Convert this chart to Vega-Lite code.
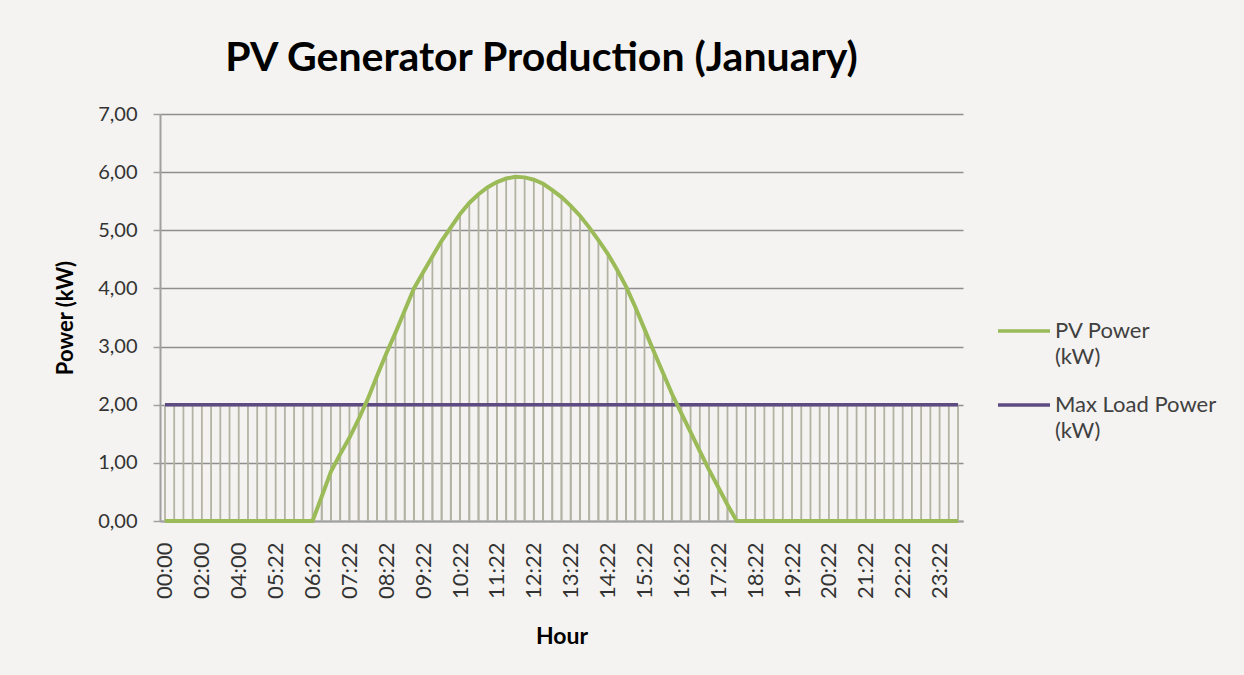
{
  "$schema": "https://vega.github.io/schema/vega-lite/v6.json",
  "width": 803,
  "height": 407,
  "autosize": {"type": "none"},
  "padding": {"left": 160, "top": 114, "right": 281, "bottom": 154},
  "background": "#f4f3f1",
  "title": {"text": "PV Generator Production (January)", "font": "Lato", "fontSize": 41, "fontWeight": "bold", "color": "#000000", "anchor": "middle", "frame": "group", "dx": -20, "offset": -8, "baseline": "alphabetic"},
  "config": {
    "view": {"stroke": null},
    "font": "Lato",
    "axisY": {"domainColor": "#a0a0a0", "domainWidth": 2, "tickColor": "#a0a0a0", "tickSize": 7, "tickWidth": 1.5, "gridColor": "#8e8e8e", "gridWidth": 1.5, "labelFont": "Lato", "labelFontSize": 20, "labelColor": "#333333", "labelPadding": 16, "titleFont": "Lato", "titleFontSize": 22, "titleFontWeight": "bold", "titleColor": "#000000", "titlePadding": 20},
    "axisX": {"domainColor": "#a0a0a0", "domainWidth": 2, "ticks": false, "grid": false, "labelFont": "Lato", "labelFontSize": 22, "labelColor": "#333333", "labelPadding": 21, "titleFont": "Lato", "titleFontSize": 23, "titleFontWeight": "bold", "titleColor": "#000000", "titlePadding": 27}
  },
  "data": {"values": [
    {"t":"00:00","pv":0,"load":2},{"t":"00:30","pv":0,"load":2},{"t":"01:00","pv":0,"load":2},{"t":"01:30","pv":0,"load":2},
    {"t":"02:00","pv":0,"load":2},{"t":"02:30","pv":0,"load":2},{"t":"03:00","pv":0,"load":2},{"t":"03:30","pv":0,"load":2},
    {"t":"04:00","pv":0,"load":2},{"t":"04:20","pv":0,"load":2},{"t":"04:41","pv":0,"load":2},{"t":"05:01","pv":0,"load":2},
    {"t":"05:22","pv":0,"load":2},{"t":"05:37","pv":0,"load":2},{"t":"05:52","pv":0,"load":2},{"t":"06:07","pv":0,"load":2},
    {"t":"06:22","pv":0,"load":2},{"t":"06:37","pv":0.42,"load":2},{"t":"06:52","pv":0.85,"load":2},{"t":"07:07","pv":1.15,"load":2},
    {"t":"07:22","pv":1.43,"load":2},{"t":"07:37","pv":1.75,"load":2},{"t":"07:52","pv":2.1,"load":2},{"t":"08:07","pv":2.5,"load":2},
    {"t":"08:22","pv":2.88,"load":2},{"t":"08:37","pv":3.24,"load":2},{"t":"08:52","pv":3.62,"load":2},{"t":"09:07","pv":4.0,"load":2},
    {"t":"09:22","pv":4.28,"load":2},{"t":"09:37","pv":4.55,"load":2},{"t":"09:52","pv":4.82,"load":2},{"t":"10:07","pv":5.05,"load":2},
    {"t":"10:22","pv":5.28,"load":2},{"t":"10:37","pv":5.47,"load":2},{"t":"10:52","pv":5.62,"load":2},{"t":"11:07","pv":5.74,"load":2},
    {"t":"11:22","pv":5.83,"load":2},{"t":"11:37","pv":5.89,"load":2},{"t":"11:52","pv":5.92,"load":2},{"t":"12:07","pv":5.91,"load":2},
    {"t":"12:22","pv":5.87,"load":2},{"t":"12:37","pv":5.8,"load":2},{"t":"12:52","pv":5.69,"load":2},{"t":"13:07","pv":5.57,"load":2},
    {"t":"13:22","pv":5.42,"load":2},{"t":"13:37","pv":5.25,"load":2},{"t":"13:52","pv":5.05,"load":2},{"t":"14:07","pv":4.83,"load":2},
    {"t":"14:22","pv":4.6,"load":2},{"t":"14:37","pv":4.33,"load":2},{"t":"14:52","pv":4.03,"load":2},{"t":"15:07","pv":3.68,"load":2},
    {"t":"15:22","pv":3.3,"load":2},{"t":"15:37","pv":2.92,"load":2},{"t":"15:52","pv":2.55,"load":2},{"t":"16:07","pv":2.18,"load":2},
    {"t":"16:22","pv":1.85,"load":2},{"t":"16:37","pv":1.53,"load":2},{"t":"16:52","pv":1.2,"load":2},{"t":"17:07","pv":0.88,"load":2},
    {"t":"17:22","pv":0.58,"load":2},{"t":"17:37","pv":0.28,"load":2},{"t":"17:52","pv":0,"load":2},{"t":"18:07","pv":0,"load":2},
    {"t":"18:22","pv":0,"load":2},{"t":"18:37","pv":0,"load":2},{"t":"18:52","pv":0,"load":2},{"t":"19:07","pv":0,"load":2},
    {"t":"19:22","pv":0,"load":2},{"t":"19:37","pv":0,"load":2},{"t":"19:52","pv":0,"load":2},{"t":"20:07","pv":0,"load":2},
    {"t":"20:22","pv":0,"load":2},{"t":"20:37","pv":0,"load":2},{"t":"20:52","pv":0,"load":2},{"t":"21:07","pv":0,"load":2},
    {"t":"21:22","pv":0,"load":2},{"t":"21:37","pv":0,"load":2},{"t":"21:52","pv":0,"load":2},{"t":"22:07","pv":0,"load":2},
    {"t":"22:22","pv":0,"load":2},{"t":"22:37","pv":0,"load":2},{"t":"22:52","pv":0,"load":2},{"t":"23:07","pv":0,"load":2},
    {"t":"23:22","pv":0,"load":2},{"t":"23:37","pv":0,"load":2},{"t":"23:52","pv":0,"load":2}
  ]},
  "encoding": {
    "x": {"field": "t", "type": "ordinal", "sort": null, "title": "Hour",
      "scale": {"type": "point", "padding": 0.54},
      "axis": {"labelAngle": -90, "values": ["00:00","02:00","04:00","05:22","06:22","07:22","08:22","09:22","10:22","11:22","12:22","13:22","14:22","15:22","16:22","17:22","18:22","19:22","20:22","21:22","22:22","23:22"]}}
  },
  "layer": [
    {"mark": {"type": "rule", "color": "#b3b3a3", "strokeWidth": 1.8},
     "encoding": {"y": {"field": "load", "type": "quantitative", "title": "Power (kW)", "scale": {"domain": [0, 7], "nice": false}, "axis": {"values": [0,1,2,3,4,5,6,7], "labelExpr": "replace(format(datum.value, '.2f'), '.', ',')"}}, "y2": {"datum": 0}}},
    {"mark": {"type": "rule", "color": "#b3b3a3", "strokeWidth": 1.8},
     "encoding": {"y": {"field": "pv", "type": "quantitative", "title": "Power (kW)"}, "y2": {"datum": 0}}},
    {"mark": {"type": "line", "strokeWidth": 3.5},
     "encoding": {"y": {"field": "load", "type": "quantitative", "title": "Power (kW)"},
       "color": {"datum": "Max Load Power (kW)", "scale": {"domain": ["PV Power (kW)", "Max Load Power (kW)"], "range": ["#9bbb59", "#5e4b82"]}}}},
    {"mark": {"type": "line", "strokeWidth": 4},
     "encoding": {"y": {"field": "pv", "type": "quantitative", "title": "Power (kW)"},
       "color": {"datum": "PV Power (kW)", "scale": {"domain": ["PV Power (kW)", "Max Load Power (kW)"], "range": ["#9bbb59", "#5e4b82"]},
         "legend": {"orient": "none", "legendX": 836, "legendY": 189, "title": null, "symbolType": "stroke", "symbolSize": 2704, "symbolStrokeWidth": 3.5, "labelFont": "Lato", "labelFontSize": 22, "labelColor": "#404040", "labelOffset": 3, "labelBaseline": "middle", "labelLimit": 300, "rowPadding": 9,
           "labelExpr": "datum.label == 'PV Power (kW)' ? ['PV Power', '(kW)'] : ['Max Load Power', '(kW)']",
           "encode": {"labels": {"update": {"lineHeight": {"value": 26}}}}}}}}
  ]
}
